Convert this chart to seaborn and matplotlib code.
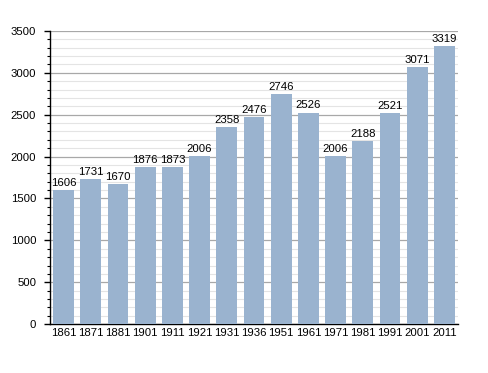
import pandas as pd
import matplotlib
matplotlib.use("Agg")
import matplotlib.pyplot as plt
from matplotlib.ticker import MultipleLocator
import seaborn as sns

years = ["1861", "1871", "1881", "1901", "1911", "1921", "1931", "1936",
         "1951", "1961", "1971", "1981", "1991", "2001", "2011"]
population = [1606, 1731, 1670, 1876, 1873, 2006, 2358, 2476,
              2746, 2526, 2006, 2188, 2521, 3071, 3319]

df = pd.DataFrame({"Year": years, "Population": population})

sns.set_style("white")
plt.rcParams["font.family"] = ["Liberation Sans", "DejaVu Sans"]
plt.rcParams["text.color"] = "black"
plt.rcParams["xtick.color"] = "black"
plt.rcParams["ytick.color"] = "black"

fig = plt.figure(figsize=(4.88, 3.73), dpi=100)
ax = fig.add_axes([0.1025, 0.131, 0.836, 0.786])

sns.barplot(x="Year", y="Population", data=df, color="#9ab3cf",
            saturation=1, width=0.77, edgecolor="none", linewidth=0,
            ax=ax, zorder=3)

ax.set_ylim(0, 3500)
ax.set_xlim(-0.5, len(years) - 0.5)
ax.yaxis.set_major_locator(MultipleLocator(500))
ax.yaxis.set_minor_locator(MultipleLocator(100))
ax.grid(which="major", axis="y", color="#a8a8a8", linewidth=0.9, zorder=0)
ax.grid(which="minor", axis="y", color="#e4e4e4", linewidth=0.8, zorder=0)
ax.set_axisbelow(True)

for s in ["top", "right"]:
    ax.spines[s].set_visible(False)
ax.spines["left"].set_color("black")
ax.spines["bottom"].set_color("black")
ax.spines["left"].set_linewidth(1)
ax.spines["bottom"].set_linewidth(1)

ax.tick_params(axis="y", which="major", length=4, width=1, color="black",
               labelsize=8.2, left=True, pad=6)
ax.tick_params(axis="y", which="minor", length=2.5, width=0.8, color="black",
               left=True)
ax.tick_params(axis="x", length=0, labelsize=8.2, pad=3)
ax.set_xlabel("")
ax.set_ylabel("")

for i, v in enumerate(population):
    ax.text(i, v + 25, str(v), ha="center", va="bottom", fontsize=8.2)

fig.savefig("out.png", dpi=100)
